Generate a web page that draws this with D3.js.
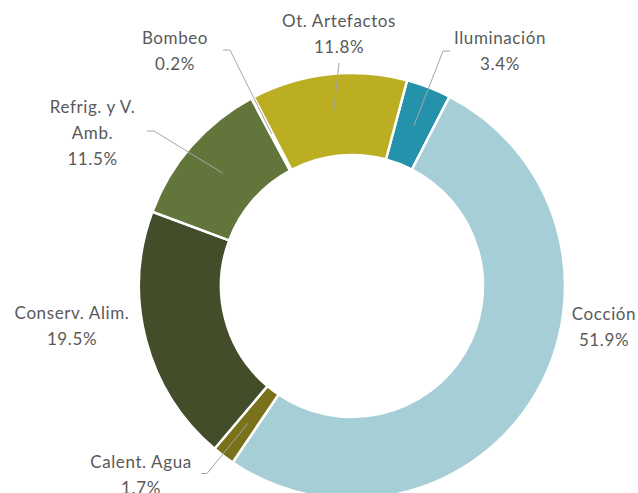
<!DOCTYPE html>
<meta charset="utf-8">
<style>
body { margin: 0; background: #fff; }
.lbl { font: 17px Lato, "Open Sans", sans-serif; fill: #595959; letter-spacing: 0.6px; }
.leader { fill: none; stroke: #a6a6a6; stroke-width: 1; }
</style>
<body>
<script src="https://d3js.org/d3.v7.min.js"></script>
<script>

// Data (clockwise from the first slice)
var categories = ["Iluminación", "Cocción", "Calent. Agua", "Conserv. Alim.", "Refrig. y V. Amb.", "Bombeo", "Ot. Artefactos"];
var shares = [3.4, 51.9, 1.7, 19.5, 11.5, 0.2, 11.8];
var colors = ["#2492ab", "#a5ced7", "#7a721a", "#434d29", "#62763b", "#8c8f6a", "#bcae22"];

// Label layout: text lines, anchor x, first baseline, and leader start/elbow
var labelLayout = {
    "Iluminación":       { lines: ["Iluminación", "3.4%"], x: 500, y: 44, lead: [[450, 51], [443, 51]] },
    "Cocción":           { lines: ["Cocción", "51.9%"], x: 604, y: 320, lead: null },
    "Calent. Agua":      { lines: ["Calent. Agua", "1.7%"], x: 141, y: 468, lead: [[201, 473.5], [207, 473.5]] },
    "Conserv. Alim.":    { lines: ["Conserv. Alim.", "19.5%"], x: 72, y: 319, lead: null },
    "Refrig. y V. Amb.": { lines: ["Refrig. y V.", "Amb.", "11.5%"], x: 92.5, y: 112.5, lead: [[147, 131], [154, 131]] },
    "Bombeo":            { lines: ["Bombeo", "0.2%"], x: 175, y: 44, lead: [[223, 50], [230, 50]] },
    "Ot. Artefactos":    { lines: ["Ot. Artefactos", "11.8%"], x: 339, y: 26.5, lead: [[339, 63]] }
};

var width = 638, height = 493;
var cx = 352, cy = 286, outerR = 213, innerR = 131;
var lineStep = 26;

var svg = d3.select("body")
    .append("svg")
        .attr("width", width)
        .attr("height", height);

var g = svg.append("g")
    .attr("transform", "translate(" + cx + "," + cy + ")");

var startA = 15 * Math.PI / 180;

var pie = d3.pie()
    .sort(null)
    .value(function(d) { return d.value; })
    .startAngle(startA)
    .endAngle(startA + 2 * Math.PI);

var arc = d3.arc()
    .innerRadius(innerR)
    .outerRadius(outerR);

var data = categories.map(function(c, i) {
    return { name: c, value: shares[i], color: colors[i] };
});

var arcs = pie(data);

g.selectAll("path.slice")
    .data(arcs)
  .enter().append("path")
    .attr("class", "slice")
    .attr("d", arc)
    .attr("fill", function(d) { return d.data.color; })
    .attr("stroke", "#fff")
    .attr("stroke-width", 2.5);

// Leader lines, ending at the slice centroid
arcs.forEach(function(d) {
    var L = labelLayout[d.data.name];
    if (!L.lead) return;
    var c = arc.centroid(d);
    var pts = L.lead.map(function(p) { return [p[0], p[1]]; });
    pts.push([c[0] + cx, c[1] + cy]);
    svg.append("path")
        .attr("class", "leader")
        .attr("d", d3.line()(pts));
});

// Labels
arcs.forEach(function(d) {
    var L = labelLayout[d.data.name];
    var t = svg.append("text")
        .attr("class", "lbl")
        .attr("text-anchor", "middle");
    L.lines.forEach(function(s, i) {
        t.append("tspan")
            .attr("x", L.x)
            .attr("y", L.y + i * lineStep)
            .text(s);
    });
});

</script>
</body>
